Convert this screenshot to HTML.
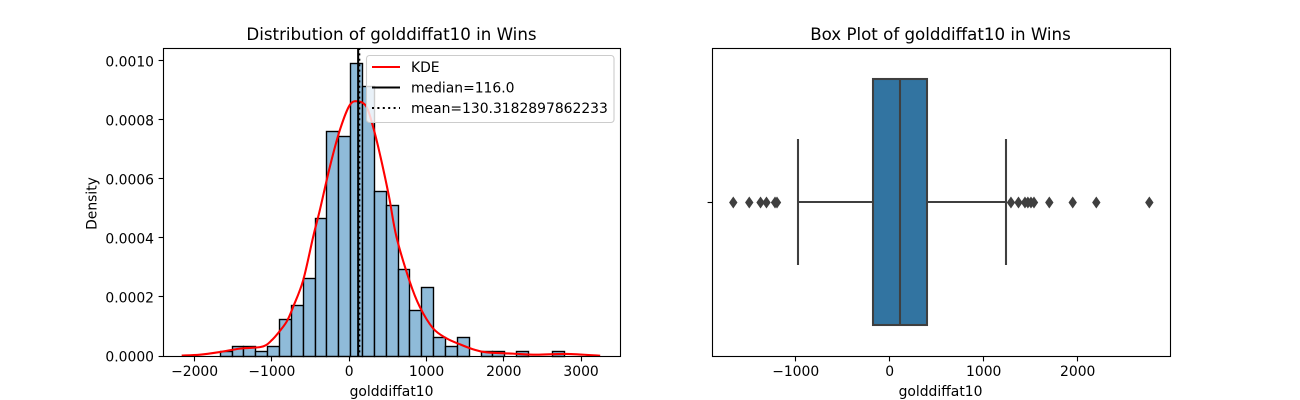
<!DOCTYPE html>
<html lang="en">
<head>
<meta charset="utf-8">
<title>golddiffat10 in Wins</title>
<style>
html,body{margin:0;padding:0;background:#fff;}
svg{display:block;}
text{font-family:"DejaVu Sans","Liberation Sans",sans-serif;fill:#000;}
</style>
</head>
<body>
<svg id="fig" xmlns="http://www.w3.org/2000/svg" width="1300" height="400" viewBox="0 0 1300 400">
  <rect x="0" y="0" width="1300" height="400" fill="#fff"/>
  <g id="left"></g>
  <g id="right"></g>
  <text x="391.5" y="40" font-size="16.67" text-anchor="middle">Distribution of golddiffat10 in Wins</text>
  <text x="940.5" y="40" font-size="16.67" text-anchor="middle">Box Plot of golddiffat10 in Wins</text>
  <text x="391.5" y="396" font-size="13.9" text-anchor="middle">golddiffat10</text>
  <text x="940.5" y="396" font-size="13.9" text-anchor="middle">golddiffat10</text>
  <text x="0" y="0" font-size="13.9" text-anchor="middle" transform="translate(96.5 203.5) rotate(-90)">Density</text>
  <g id="legend">
    <rect x="366.5" y="55.5" width="247.5" height="67" rx="3" ry="3" fill="#fff" fill-opacity="0.8" stroke="#ccc" stroke-width="1.1"/>
    <line x1="372" x2="400" y1="67" y2="67" stroke="#f00" stroke-width="2.08"/>
    <text x="411" y="72" font-size="13.9">KDE</text>
    <line x1="372" x2="400" y1="87.5" y2="87.5" stroke="#000" stroke-width="2.08"/>
    <text x="411" y="92.5" font-size="13.9">median=116.0</text>
    <line x1="372" x2="400" y1="108" y2="108" stroke="#000" stroke-width="2.08" stroke-dasharray="2 3.4"/>
    <text x="411" y="113" font-size="13.9">mean=130.3182897862233</text>
  </g>
</svg>
<script>
// ---- histogram data ----
const binStart = -1668;
const binWidth = 153.4;
const binCounts = [1,2,2,1,2,8,11,17,30,49,48,64,59,36,33,19,10,15,4,2,4,0,1,1,0,1,0,0,1];
const sampleSize = 421;
const kdeX = [-2167,-1930,-1672,-1413,-1155,-1069,-1000,-940,-810,-724,-595,-466,-380,-250,-121,8,120,224,309,395,515,611,783,912,1084,1257,1429,1600,1774,2118,2420,2808,3247];
const kdeY = [0.0000015,0.0000044,0.0000135,0.000025,0.00003,0.000038,0.000054,0.000071,0.000116,0.000167,0.000257,0.000404,0.000494,0.000641,0.000765,0.00085,0.000862,0.000844,0.000776,0.000686,0.00054,0.000404,0.000252,0.000167,0.000094,0.00006,0.00004,0.000023,0.0000125,0.000008,0.0000045,0.000007,0.000001];
const medianValue = 116.0;
const meanValue = 130.3182897862233;
const histXTicks = [-2000,-1000,0,1000,2000,3000];
const histYTicks = [0,0.0002,0.0004,0.0006,0.0008,0.001];
// ---- box plot data ----
const boxQ1 = -178;
const boxMedian = 116;
const boxQ3 = 400;
const whiskerLow = -972;
const whiskerHigh = 1240;
const outliers = [-1664,-1494,-1374,-1311,-1220,-1199,1290,1370,1439,1470,1503,1535,1698,1947,2198,2762];
const boxXTicks = [-1000,0,1000,2000];

const NS = 'http://www.w3.org/2000/svg';
function mk(parent, tag, attrs, txt) {
  const e = document.createElementNS(NS, tag);
  for (const k in attrs) e.setAttribute(k, attrs[k]);
  if (txt !== undefined) e.textContent = txt;
  parent.appendChild(e);
  return e;
}
const snap = v => Math.round(v - 0.5) + 0.5;
const snap2 = v => Math.round(v - 0.3);
const fmtX = v => (v < 0 ? '\u2212' + Math.abs(v) : String(v));

// axis functions
const hx = v => 349.2 + v * 0.0773;
const hy = v => 356 - v * 295300;
const bx = v => 889.7 + v * 0.094;

const L = document.getElementById('left');
const R = document.getElementById('right');

// ---- histogram bars ----
binCounts.forEach(function (c, i) {
  if (c === 0) return;
  const x0 = snap(hx(binStart + i * binWidth));
  const x1 = snap(hx(binStart + (i + 1) * binWidth));
  const top = snap(hy(c / (sampleSize * binWidth)));
  const r = mk(L, 'rect', {x: x0, y: top, width: x1 - x0, height: 356.5 - top, fill: '#8fbbd9', stroke: '#000', 'stroke-width': 1.39});
  
  
});

// ---- KDE curve (Catmull-Rom through read points) ----
(function () {
  const pts = kdeX.map((v, i) => [hx(v), hy(kdeY[i])]);
  let d = 'M' + pts[0][0].toFixed(2) + ' ' + pts[0][1].toFixed(2);
  for (let i = 0; i < pts.length - 1; i++) {
    const p0 = pts[Math.max(0, i - 1)], p1 = pts[i], p2 = pts[i + 1], p3 = pts[Math.min(pts.length - 1, i + 2)];
    const c1x = p1[0] + (p2[0] - p0[0]) / 6, c1y = p1[1] + (p2[1] - p0[1]) / 6;
    const c2x = p2[0] - (p3[0] - p1[0]) / 6, c2y = p2[1] - (p3[1] - p1[1]) / 6;
    d += 'C' + c1x.toFixed(2) + ' ' + c1y.toFixed(2) + ' ' + c2x.toFixed(2) + ' ' + c2y.toFixed(2) + ' ' + p2[0].toFixed(2) + ' ' + p2[1].toFixed(2);
  }
  const k = mk(L, 'path', {d: d, fill: 'none', stroke: '#f00', 'stroke-width': 2.08, 'stroke-linejoin': 'round'});
  
  
})();

// ---- median / mean lines ----
const medLine = mk(L, 'line', {x1: hx(medianValue), x2: hx(medianValue), y1: 48, y2: 356, stroke: '#000', 'stroke-width': 2.08});


const meanLine = mk(L, 'line', {x1: hx(meanValue), x2: hx(meanValue), y1: 48, y2: 356, stroke: '#000', 'stroke-width': 2.08, 'stroke-dasharray': '2 3.4'});



// ---- histogram axes ----
const lFrame = mk(L, 'rect', {x: 163.5, y: 48.5, width: 457, height: 308, fill: 'none', stroke: '#000', 'stroke-width': 1.11});


histXTicks.forEach(function (t) {
  const x = snap(hx(t));
  const m = mk(L, 'line', {x1: x, x2: x, y1: 356.5, y2: 361.4, stroke: '#000', 'stroke-width': 1.11});
  
  
  const l = mk(L, 'text', {x: hx(t), y: 376, 'font-size': 13.9, 'text-anchor': 'middle'}, fmtX(t));
  
  
});
histYTicks.forEach(function (t) {
  const y = snap(hy(t));
  const m = mk(L, 'line', {x1: 158.6, x2: 163.5, y1: y, y2: y, stroke: '#000', 'stroke-width': 1.11});
  
  
  const l = mk(L, 'text', {x: 154, y: hy(t) + 5.6, 'font-size': 13.9, 'text-anchor': 'end'}, t.toFixed(4));
  
  
});

// ---- box plot ----
const CY = 202;
const GREY = '#3f3f3f';
const whiskL = mk(R, 'line', {x1: snap2(bx(whiskerLow)), x2: snap2(bx(boxQ1)), y1: CY, y2: CY, stroke: GREY, 'stroke-width': 2.08});


const whiskH = mk(R, 'line', {x1: snap2(bx(boxQ3)), x2: snap2(bx(whiskerHigh)), y1: CY, y2: CY, stroke: GREY, 'stroke-width': 2.08});


const capL = mk(R, 'line', {x1: snap2(bx(whiskerLow)), x2: snap2(bx(whiskerLow)), y1: 139, y2: 265, stroke: GREY, 'stroke-width': 2.08});


const capH = mk(R, 'line', {x1: snap2(bx(whiskerHigh)), x2: snap2(bx(whiskerHigh)), y1: 139, y2: 265, stroke: GREY, 'stroke-width': 2.08});


const box = mk(R, 'rect', {x: snap2(bx(boxQ1)), y: 79, width: snap2(bx(boxQ3)) - snap2(bx(boxQ1)), height: 246, fill: '#3274a1', stroke: GREY, 'stroke-width': 2.08});


const medBar = mk(R, 'line', {x1: snap2(bx(boxMedian)), x2: snap2(bx(boxMedian)), y1: 79, y2: 325, stroke: GREY, 'stroke-width': 2.08});


outliers.forEach(function (v) {
  const x = bx(v);
  const my = CY + 0.5;
  const pts = [[x, my - 6], [x + 4.2, my], [x, my + 6], [x - 4.2, my]].map(p => p[0].toFixed(2) + ',' + p[1].toFixed(2)).join(' ');
  const o = mk(R, 'polygon', {points: pts, fill: GREY});
  
  
});

// ---- box plot axes ----
const rFrame = mk(R, 'rect', {x: 712.5, y: 48.5, width: 458, height: 308, fill: 'none', stroke: '#000', 'stroke-width': 1.11});


const yTick = mk(R, 'line', {x1: 707.6, x2: 712.5, y1: 202.5, y2: 202.5, stroke: '#000', 'stroke-width': 1.11});


boxXTicks.forEach(function (t) {
  const x = snap(bx(t));
  const m = mk(R, 'line', {x1: x, x2: x, y1: 356.5, y2: 361.4, stroke: '#000', 'stroke-width': 1.11});
  
  
  const l = mk(R, 'text', {x: bx(t), y: 376, 'font-size': 13.9, 'text-anchor': 'middle'}, fmtX(t));
  
  
});
</script>
</body>
</html>
